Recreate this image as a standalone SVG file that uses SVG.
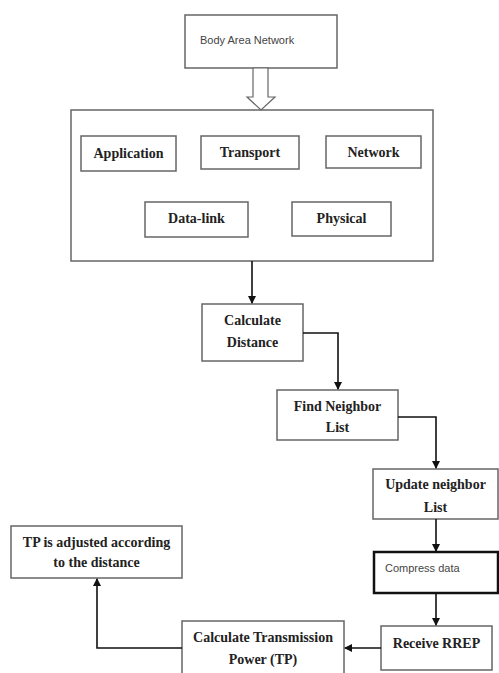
<svg xmlns="http://www.w3.org/2000/svg" width="499" height="673" viewBox="0 0 499 673">
<style>
.box{fill:#fff;stroke:#666;stroke-width:1.5}
.lbl{font-family:"Liberation Serif",serif;font-weight:bold;font-size:14px;fill:#222;text-anchor:middle}
.sans{font-family:"Liberation Sans",sans-serif;font-size:11px;fill:#444}
.con{fill:none;stroke:#111;stroke-width:1.6}
</style>
<defs>
<marker id="ah" markerWidth="8" markerHeight="8" refX="7" refY="4" orient="auto" markerUnits="userSpaceOnUse">
<path d="M0,0 L8,4 L0,8 Z" fill="#111"/>
</marker>
</defs>
<rect width="499" height="673" fill="#fff"/>
<g id="body-area-network">
<rect class="box" x="185" y="15" width="152" height="53"/>
<text class="sans" x="200" y="44" font-size="11.5">Body Area Network</text>
</g>
<g id="layers">
<rect class="box" x="71" y="110" width="362" height="151"/>
</g>
<g id="application"><rect class="box" x="81" y="136" width="95" height="35"/><text class="lbl" x="128.5" y="158">Application</text></g>
<g id="transport"><rect class="box" x="201" y="136" width="98" height="33"/><text class="lbl" x="250" y="157">Transport</text></g>
<g id="network"><rect class="box" x="326" y="136" width="95" height="32"/><text class="lbl" x="373.5" y="157">Network</text></g>
<g id="data-link"><rect class="box" x="145" y="202" width="103" height="35"/><text class="lbl" x="196.5" y="223">Data-link</text></g>
<g id="physical"><rect class="box" x="292" y="202" width="99" height="34"/><text class="lbl" x="341.5" y="223">Physical</text></g>
<g id="calculate-distance"><rect class="box" x="202" y="304" width="101" height="57"/><text class="lbl" x="252.5" y="325">Calculate</text><text class="lbl" x="252.5" y="347">Distance</text></g>
<g id="find-neighbor"><rect class="box" x="277" y="390" width="121" height="50"/><text class="lbl" x="337.5" y="411">Find Neighbor</text><text class="lbl" x="337.5" y="432">List</text></g>
<g id="update-neighbor"><rect class="box" x="373" y="469" width="125" height="50"/><text class="lbl" x="435.5" y="489">Update neighbor</text><text class="lbl" x="435.5" y="512">List</text></g>
<g id="compress-data"><rect x="374" y="552" width="124" height="41" fill="#fff" stroke="#111" stroke-width="2.5"/><text class="sans" x="385" y="572">Compress data</text></g>
<g id="receive-rrep"><rect class="box" x="381" y="626" width="111" height="44"/><text class="lbl" x="436.5" y="648">Receive RREP</text></g>
<g id="calculate-tp"><rect class="box" x="182" y="621" width="162" height="60"/><text class="lbl" x="263" y="642">Calculate Transmission</text><text class="lbl" x="263" y="664">Power (TP)</text></g>
<g id="tp-adjusted"><rect class="box" x="11" y="526" width="171" height="52"/><text class="lbl" x="96.5" y="547">TP is adjusted according</text><text class="lbl" x="96.5" y="567">to the distance</text></g>
<g id="connectors">
<polygon points="253,68 268,68 268,97 275,97 261,110 247,97 253,97" fill="#fff" stroke="#666" stroke-width="1.2"/>
<path class="con" d="M252,261 V303" marker-end="url(#ah)"/>
<path class="con" d="M303,333 H338 V389" marker-end="url(#ah)"/>
<path class="con" d="M398,417 H436 V468" marker-end="url(#ah)"/>
<path class="con" d="M436,519 V551" marker-end="url(#ah)"/>
<path class="con" d="M436,593 V625" marker-end="url(#ah)"/>
<path class="con" d="M381,648 H345" marker-end="url(#ah)"/>
<path class="con" d="M182,648 H97 V579" marker-end="url(#ah)"/>
</g>
</svg>
